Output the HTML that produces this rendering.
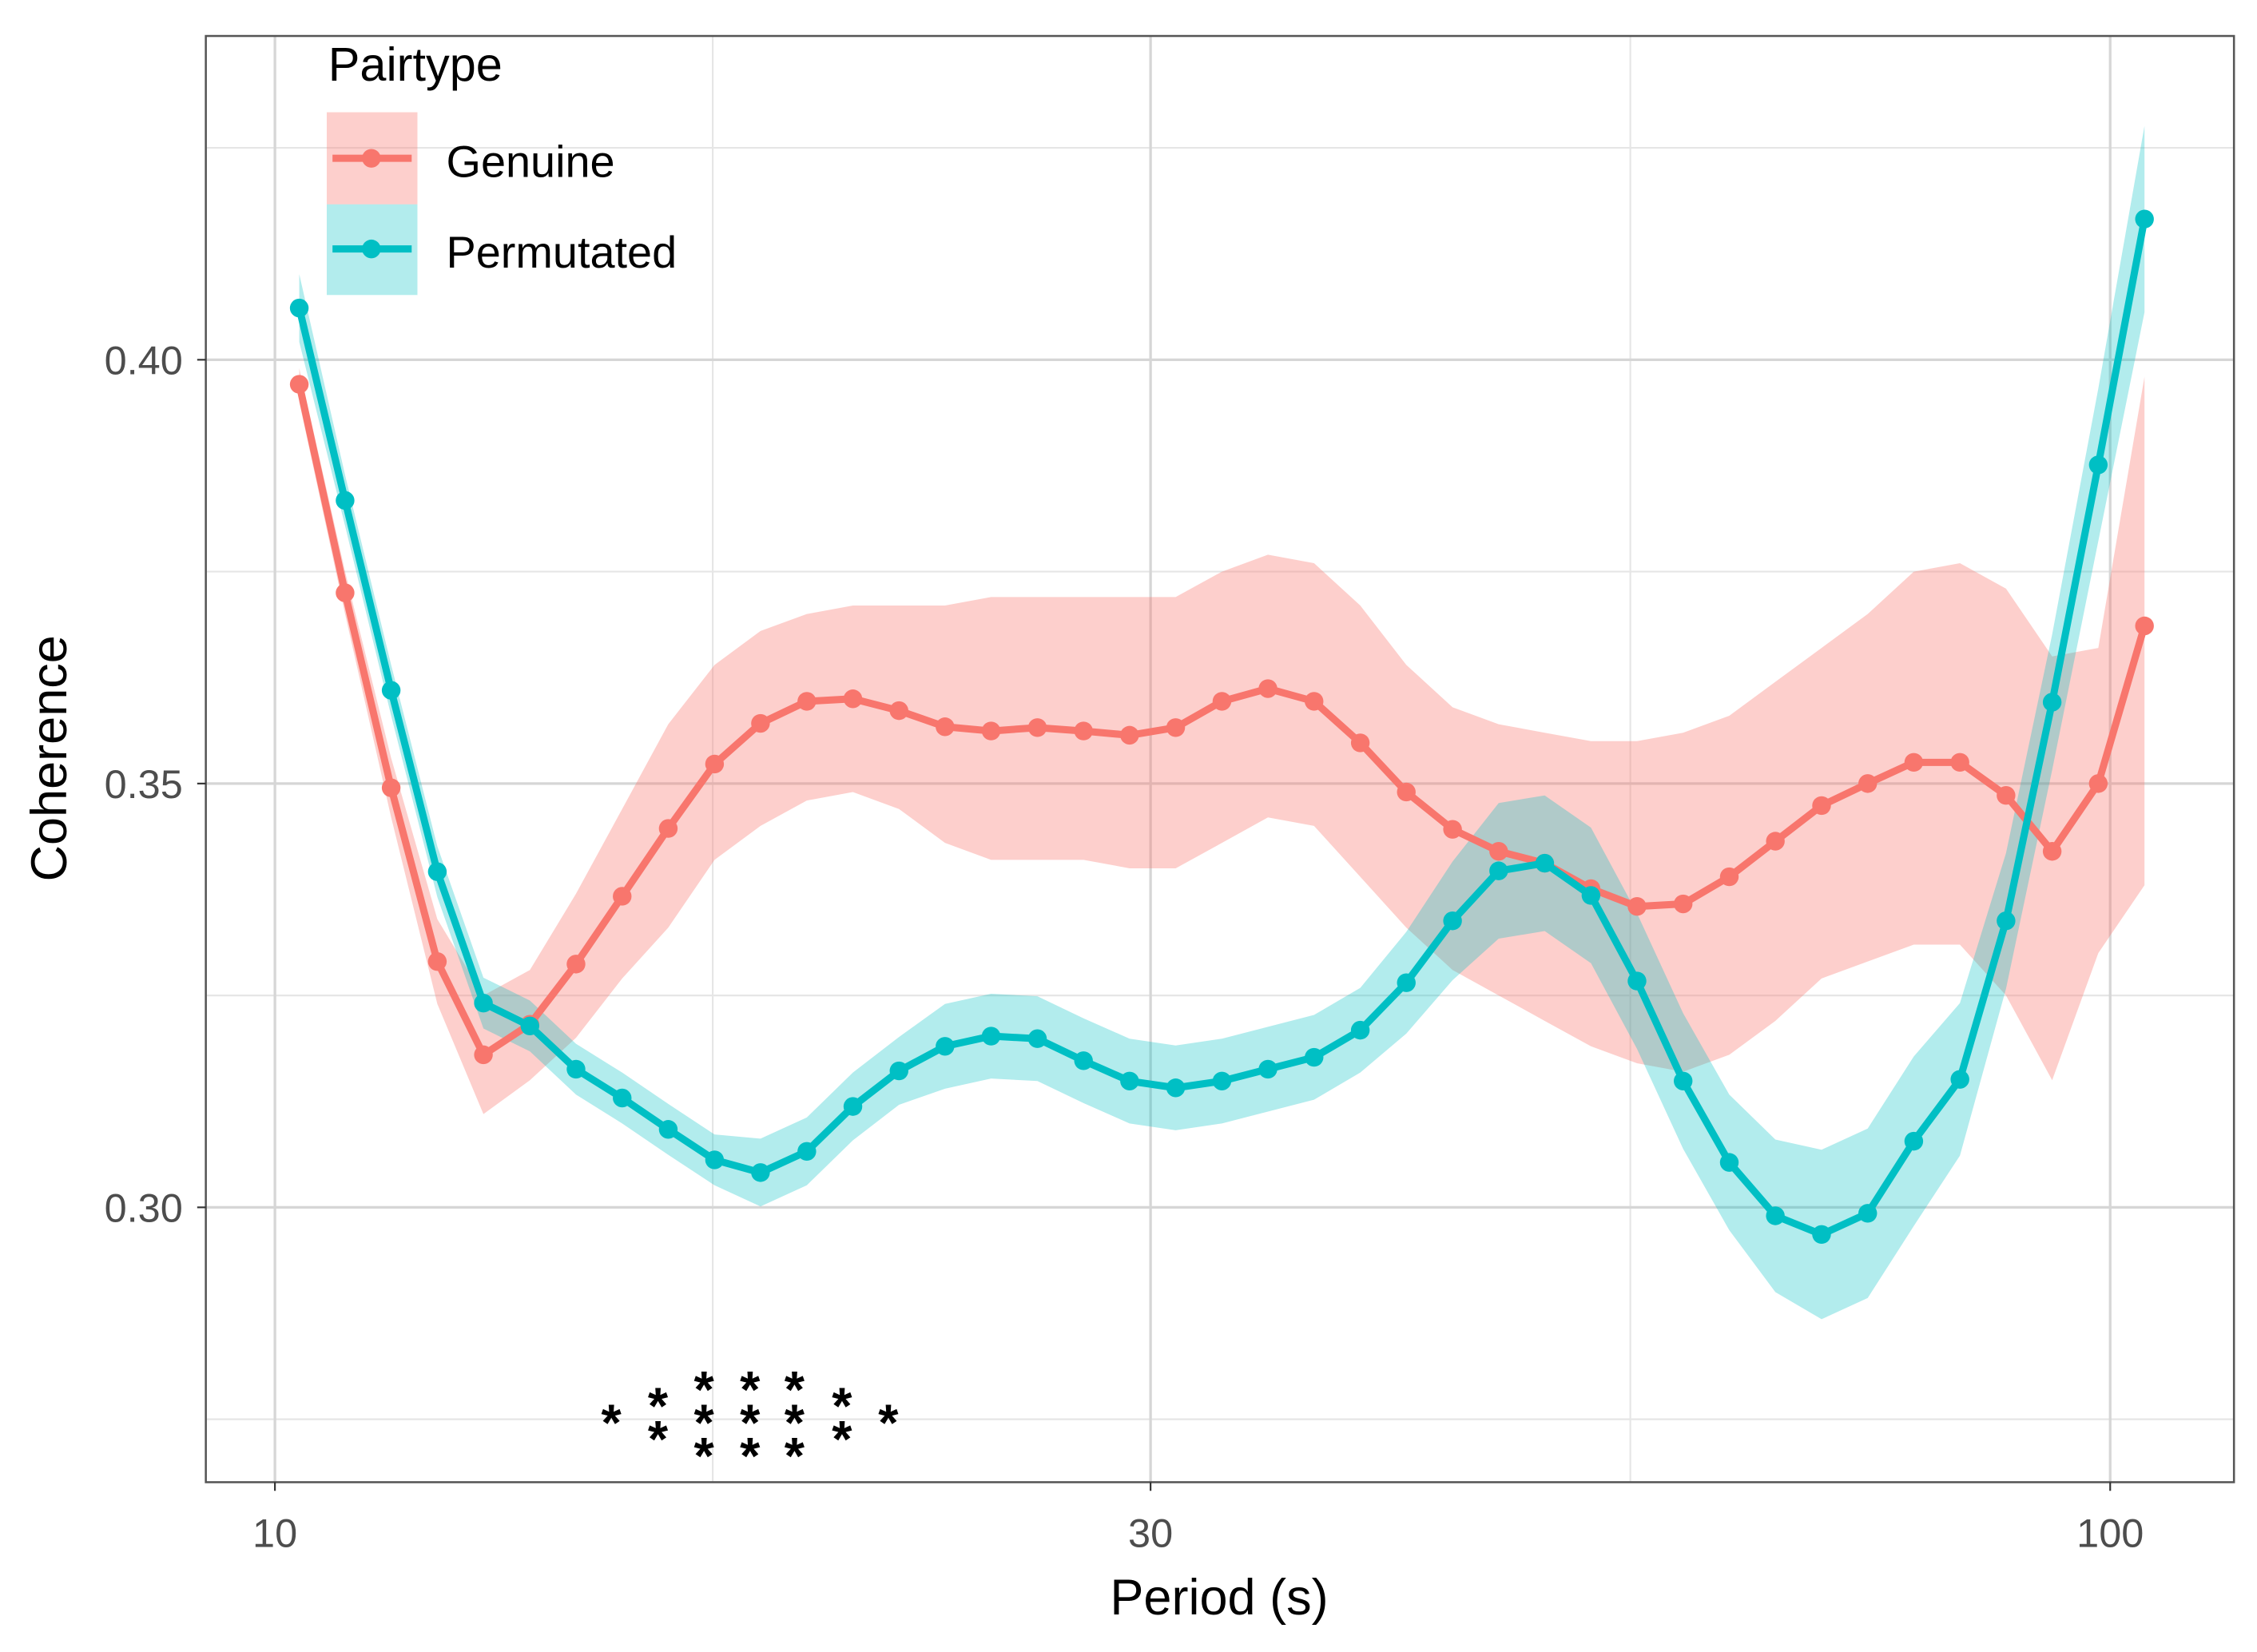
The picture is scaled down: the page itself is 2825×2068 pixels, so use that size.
<!DOCTYPE html>
<html><head><meta charset="utf-8"><style>
html,body{margin:0;padding:0;background:#fff}
svg{display:block}
text{font-family:"Liberation Sans",sans-serif}
</style></head><body>
<svg id="chart" width="2825" height="2068" viewBox="0 0 1568 1148" preserveAspectRatio="none" xmlns="http://www.w3.org/2000/svg">
<rect x="143" y="25" width="1409" height="1005" fill="#fff"/>
<g id="grid"></g>
<g id="bands"></g>
<g id="lines"></g>
<g id="stars"></g>
<rect x="143" y="25" width="1409" height="1005" fill="none" stroke="#555" stroke-width="1.4"/>
<g id="axes"></g>
<text transform="translate(46,527) rotate(-90)" text-anchor="middle" font-size="35" fill="#000">Coherence</text>
<text x="847" y="1122" text-anchor="middle" font-size="35" fill="#000">Period (s)</text>
<g>
<text x="228" y="56" font-size="33" fill="#000">Pairtype</text>
<g>
<rect x="227" y="78" width="63" height="64" fill="#F8766D" fill-opacity="0.35"/>
<line x1="231" y1="110" x2="286" y2="110" stroke="#F8766D" stroke-width="5"/>
<circle cx="258" cy="110" r="6.5" fill="#F8766D"/>
<text x="310" y="123" font-size="31" fill="#000">Genuine</text>
</g>
<g>
<rect x="227" y="142" width="63" height="63" fill="#00BFC4" fill-opacity="0.3"/>
<line x1="231" y1="173" x2="286" y2="173" stroke="#00BFC4" stroke-width="5"/>
<circle cx="258" cy="173" r="6.5" fill="#00BFC4"/>
<text x="310" y="186" font-size="31" fill="#000">Permutated</text>
</g>
</g>
</svg>
<script>
const periods=[10.31,10.92,11.57,12.26,12.99,13.77,14.59,15.46,16.38,17.36,18.39,19.49,20.65,21.88,23.18,24.56,26.03,27.58,29.22,30.96,32.81,34.76,36.83,39.03,41.35,43.82,46.43,49.19,52.13,55.23,58.52,62.01,65.70,69.62,73.77,78.16,82.82,87.75,92.98,98.52,104.4];
const genuine=[0.3971,0.3725,0.3495,0.329,0.318,0.3216,0.3287,0.3367,0.3447,0.3523,0.3571,0.3597,0.36,0.3586,0.3567,0.3562,0.3566,0.3562,0.3557,0.3566,0.3597,0.3612,0.3597,0.3548,0.349,0.3446,0.342,0.3406,0.3376,0.3355,0.3358,0.339,0.3432,0.3474,0.35,0.3525,0.3525,0.3486,0.342,0.35,0.3686];
const genuineUpper=[0.399,0.375,0.353,0.334,0.325,0.328,0.337,0.347,0.357,0.364,0.368,0.370,0.371,0.371,0.371,0.372,0.372,0.372,0.372,0.372,0.375,0.377,0.376,0.371,0.364,0.359,0.357,0.356,0.355,0.355,0.356,0.358,0.362,0.366,0.370,0.375,0.376,0.373,0.365,0.366,0.398];
const genuineLower=[0.395,0.370,0.346,0.324,0.311,0.315,0.320,0.327,0.333,0.341,0.345,0.348,0.349,0.347,0.343,0.341,0.341,0.341,0.340,0.340,0.343,0.346,0.345,0.339,0.333,0.328,0.325,0.322,0.319,0.317,0.316,0.318,0.322,0.327,0.329,0.331,0.331,0.325,0.315,0.330,0.338];
const permutated=[0.4061,0.3834,0.361,0.3396,0.3241,0.3214,0.3163,0.3129,0.3092,0.3056,0.3041,0.3066,0.3119,0.3161,0.319,0.3202,0.3199,0.3173,0.3149,0.3141,0.3149,0.3163,0.3177,0.3209,0.3265,0.3338,0.3397,0.3406,0.3368,0.3267,0.3149,0.3053,0.299,0.2968,0.2993,0.3078,0.3151,0.3338,0.3596,0.3876,0.4166];
const permutatedHalfWidth=[0.004,0.003,0.003,0.003,0.003,0.003,0.003,0.003,0.003,0.003,0.004,0.004,0.004,0.004,0.005,0.005,0.005,0.005,0.005,0.005,0.005,0.005,0.005,0.005,0.006,0.007,0.008,0.008,0.008,0.008,0.008,0.008,0.009,0.01,0.01,0.01,0.009,0.008,0.008,0.009,0.011];
const starPeriods=[15.25,16.17,17.13,18.15,19.19,20.37,21.59];
const starCounts=[1,2,3,3,3,2,1];
const starLevel=0.2752;
const xTicks=[10,30,100];
const xTickLabels=["10","30","100"];
const xMinor=[17.32,54.77];
const yTicks=[0.30,0.35,0.40];
const yTickLabels=["0.30","0.35","0.40"];
const yMinor=[0.275,0.325,0.375,0.425];

const NS="http://www.w3.org/2000/svg";
const X0=143,X1=1552,Y0=25,Y1=1030;
function xs(p){return 191+(Math.log10(p)-1)*1275;}
function ys(v){return 839-(v-0.30)*5890;}
function mk(tag,attrs,parent){const e=document.createElementNS(NS,tag);for(const k in attrs)e.setAttribute(k,attrs[k]);parent.appendChild(e);return e;}
const grid=document.getElementById('grid'),bands=document.getElementById('bands'),lines=document.getElementById('lines'),stars=document.getElementById('stars'),axes=document.getElementById('axes');
yMinor.forEach(v=>{const l=mk('line',{x1:X0,x2:X1,y1:ys(v),y2:ys(v),stroke:'#e6e6e6','stroke-width':1.2},grid);

});
xMinor.forEach(p=>{const l=mk('line',{x1:xs(p),x2:xs(p),y1:Y0,y2:Y1,stroke:'#e6e6e6','stroke-width':1.2},grid);

});
yTicks.forEach((v,i)=>{const l=mk('line',{x1:X0,x2:X1,y1:ys(v),y2:ys(v),stroke:'#d6d6d6','stroke-width':1.8},grid);


const t=mk('line',{x1:X0-6,x2:X0,y1:ys(v),y2:ys(v),stroke:'#333','stroke-width':1.2},axes);


const tx=mk('text',{x:X0-16,y:ys(v)+10,'text-anchor':'end','font-size':28,fill:'#4d4d4d'},axes);
tx.textContent=yTickLabels[i];

});
xTicks.forEach((p,i)=>{const l=mk('line',{x1:xs(p),x2:xs(p),y1:Y0,y2:Y1,stroke:'#d6d6d6','stroke-width':1.8},grid);


const t=mk('line',{x1:xs(p),x2:xs(p),y1:Y1,y2:Y1+6,stroke:'#333','stroke-width':1.2},axes);


const tx=mk('text',{x:xs(p),y:Y1+45,'text-anchor':'middle','font-size':28,fill:'#4d4d4d'},axes);
tx.textContent=xTickLabels[i];

});
function band(upper,lower,color,op,name){let d='';periods.forEach((p,i)=>{d+=(i?'L':'M')+xs(p)+','+ys(upper[i]);});for(let i=periods.length-1;i>=0;i--)d+='L'+xs(periods[i])+','+ys(lower[i]);d+='Z';
const e=mk('path',{d:d,fill:color,'fill-opacity':op},bands);

}
band(genuineUpper,genuineLower,'#F8766D',0.35,'genuine-band');
const pu=permutated.map((v,i)=>v+permutatedHalfWidth[i]),pl=permutated.map((v,i)=>v-permutatedHalfWidth[i]);
band(pu,pl,'#00BFC4',0.3,'permutated-band');
function series(vals,color,name){const pts=periods.map((p,i)=>xs(p)+','+ys(vals[i])).join(' ');
const pl=mk('polyline',{points:pts,fill:'none',stroke:color,'stroke-width':5,'stroke-linejoin':'round'},lines);


periods.forEach((p,i)=>{const c=mk('circle',{cx:xs(p),cy:ys(vals[i]),r:6.5,fill:color},lines);

});}
series(genuine,'#F8766D','genuine');
series(permutated,'#00BFC4','permutated');
starPeriods.forEach((p,i)=>{const n=starCounts[i];for(let k=0;k<n;k++){const cy=ys(starLevel)+(k-(n-1)/2)*23;
const t=mk('text',{x:xs(p),y:cy+16,'text-anchor':'middle','font-size':36,'font-weight':'bold',fill:'#000'},stars);
t.textContent='*';

}});
</script>
</body></html>
